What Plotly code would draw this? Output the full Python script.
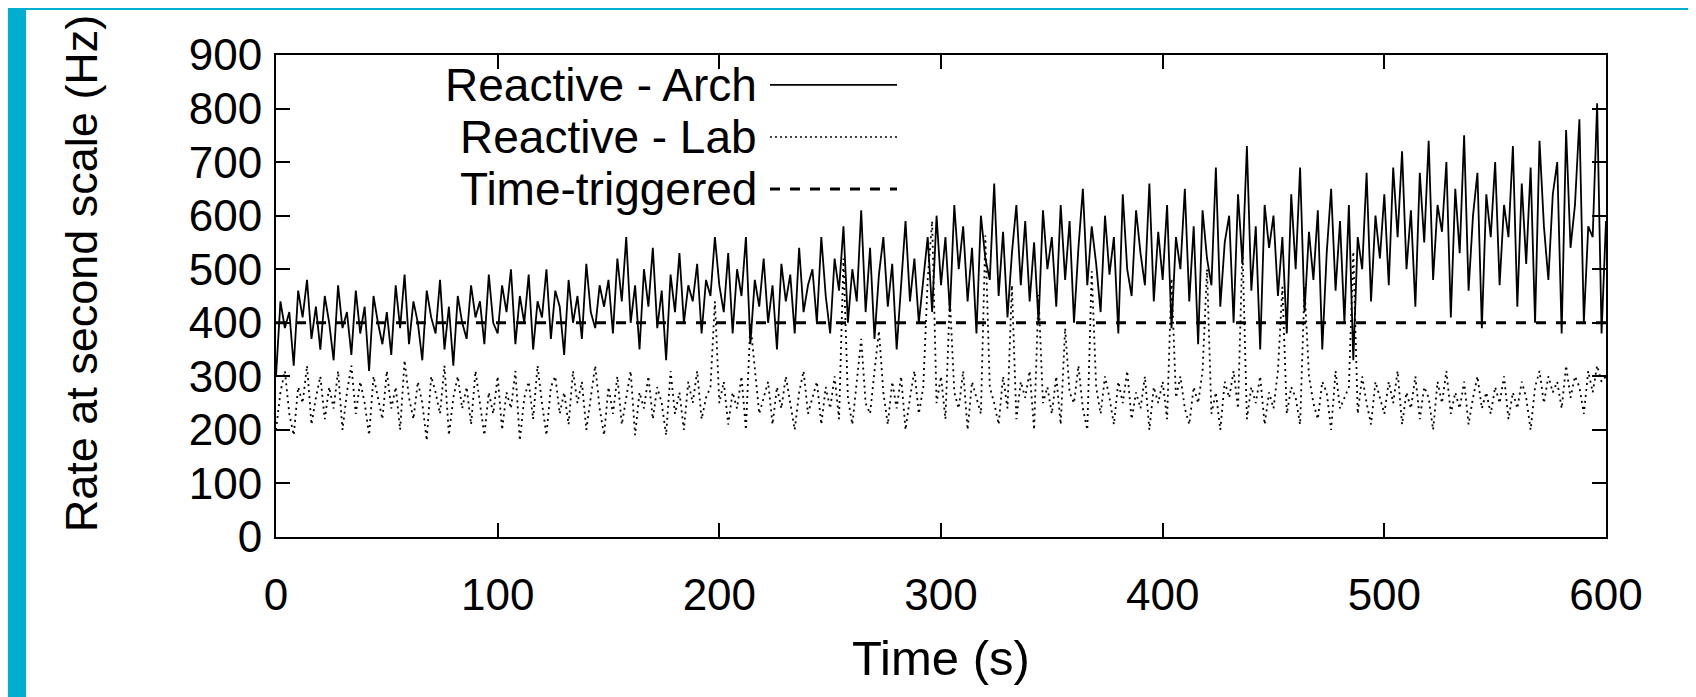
import plotly.graph_objects as go

# sampling grid, one value every 2 s
time_s = list(range(0, 601, 2))

arch_hz = [
    300, 440, 390, 420, 320, 460, 410, 480, 370, 430, 350, 450, 400, 330, 470, 390, 420, 340, 460, 380, 430, 310, 450, 400, 360,
    420, 340, 470, 390, 490, 360, 440, 400, 330, 460, 410, 380, 480, 350, 430, 320, 450, 400, 370, 470, 410, 440, 360, 490, 400,
    380, 470, 420, 500, 360, 450, 400, 490, 350, 440, 410, 500, 370, 460, 430, 340, 480, 400, 450, 370, 510, 420, 390, 470, 430,
    480, 380, 520, 440, 560, 400, 470, 350, 500, 430, 540, 390, 460, 330, 490, 420, 530, 400, 470, 440, 510, 380, 480, 450, 560,
    470, 420, 530, 380, 500, 450, 560, 360, 480, 430, 520, 400, 470, 350, 510, 440, 490, 380, 540, 420, 470, 500, 400, 560, 450,
    380, 520, 460, 580, 400, 500, 440, 610, 420, 540, 370, 490, 560, 430, 510, 350, 470, 590, 440, 520, 400, 480, 560, 420, 600,
    470, 560, 420, 620, 500, 580, 440, 540, 380, 600, 520, 480, 660, 450, 570, 410, 530, 620, 470, 590, 440, 550, 400, 610, 500,
    560, 430, 620, 480, 590, 400, 540, 650, 470, 580, 510, 420, 600, 490, 560, 380, 640, 500, 450, 610, 530, 470, 660, 440, 570,
    480, 620, 390, 560, 500, 650, 440, 580, 360, 610, 520, 470, 690, 430, 550, 600, 400, 640, 510, 730, 460, 580, 350, 620, 540,
    600, 450, 560, 380, 640, 500, 690, 420, 570, 480, 610, 350, 530, 650, 460, 590, 400, 620, 330, 560, 500, 680, 440, 600, 520,
    640, 470, 690, 560, 720, 500, 610, 430, 680, 550, 740, 480, 620, 570, 700, 410, 650, 530, 750, 460, 600, 680, 390, 640, 560,
    700, 470, 620, 560, 730, 430, 660, 510, 690, 400, 740, 580, 480, 640, 700, 380, 760, 540, 620, 780, 400, 580, 560, 810, 380,
    590,
]

lab_hz = [
    200, 270, 310, 230, 190, 280, 250, 320, 210, 260, 300, 220, 280, 240, 310, 200, 270, 320, 230, 290, 250, 190, 300, 260, 220,
    310, 240, 280, 200, 330, 260, 220, 290, 250, 180, 300, 270, 230, 320, 190, 260, 300, 240, 280, 210, 310, 250, 190, 270, 230,
    300, 200, 270, 240, 310, 180, 260, 290, 220, 320, 250, 190, 280, 300, 230, 270, 210, 310, 250, 290, 200, 260, 320, 240, 190,
    280, 230, 300, 210, 260, 310, 190, 270, 240, 300, 220, 280, 250, 190, 310, 230, 270, 200, 290, 250, 310, 220, 260, 280, 440,
    250, 290, 210, 270, 240, 300, 200, 400, 310, 230, 260, 290, 210, 280, 240, 300, 250, 200, 270, 310, 230, 260, 290, 210, 280,
    240, 300, 220, 520, 260, 210, 290, 370, 250, 230, 310, 385, 270, 210, 290, 240, 300, 200, 260, 310, 230, 280, 480, 590, 250,
    300, 220, 446, 270, 240, 310, 200, 290, 260, 230, 563, 280, 250, 210, 300, 240, 470, 220, 290, 260, 310, 200, 452, 250, 280,
    230, 300, 210, 390, 270, 250, 320, 240, 200, 496, 280, 230, 300, 260, 210, 290, 250, 310, 220, 270, 240, 300, 200, 280, 250,
    290, 220, 483, 260, 300, 240, 210, 280, 250, 310, 500, 230, 270, 200, 290, 260, 310, 240, 540, 220, 280, 250, 300, 210, 270,
    240, 310, 467, 230, 280, 260, 210, 467, 300, 250, 220, 290, 270, 200, 310, 240, 260, 280, 533, 230, 300, 250, 210, 290, 260,
    230, 290, 250, 310, 210, 270, 240, 300, 220, 280, 260, 200, 290, 250, 310, 230, 270, 240, 290, 210, 260, 300, 240, 270, 230,
    280, 250, 300, 220, 270, 240, 290, 260, 200, 280, 310, 250, 300, 270, 290, 240, 320, 260, 300, 280, 230, 310, 270, 320, 290,
    300,
]

tt_time = [0, 600]
tt_hz = [400, 400]

series_names = ["Reactive - Arch", "Reactive - Lab", "Time-triggered"]
x_ticks = [0, 100, 200, 300, 400, 500, 600]
y_ticks = [0, 100, 200, 300, 400, 500, 600, 700, 800, 900]

FONT = "Liberation Sans, Arial, Helvetica, sans-serif"
styles = [
    dict(color="black", width=1.8, dash="solid"),
    dict(color="black", width=1.8, dash="2px,4px"),
    dict(color="black", width=3, dash="10px,10px"),
]
key_styles = [
    styles[0],
    dict(color="black", width=1.5, dash="2px,3px"),
    styles[2],
]

fig = go.Figure()
fig.add_trace(go.Scatter(x=time_s, y=arch_hz, mode="lines", name=series_names[0], line=styles[0]))
fig.add_trace(go.Scatter(x=time_s, y=lab_hz, mode="lines", name=series_names[1], line=styles[1]))
fig.add_trace(go.Scatter(x=tt_time, y=tt_hz, mode="lines", name=series_names[2], line=styles[2]))

axis_common = dict(
    showline=True, linecolor="black", linewidth=2, mirror="allticks",
    ticks="inside", ticklen=14, tickwidth=1.5, tickcolor="black",
    showgrid=False, zeroline=False,
    tickfont=dict(family=FONT, size=44, color="black"),
)
fig.update_xaxes(range=[0, 600], tickvals=x_ticks, ticklabelstandoff=18, **axis_common)
fig.update_yaxes(range=[0, 900], tickvals=y_ticks, ticklabelstandoff=3, **axis_common)

# gnuplot style key: text right aligned, sample to the right
key_y = [0.938, 0.830, 0.722]
annotations = []
shapes = []
for name, st, yk in zip(series_names, key_styles, key_y):
    annotations.append(dict(
        xref="paper", yref="paper", x=0.3625, y=yk, text=name, showarrow=False,
        xanchor="right", yanchor="middle", borderpad=0,
        font=dict(family=FONT, size=46, color="black"),
    ))
    shapes.append(dict(type="line", xref="paper", yref="paper", x0=0.3714, x1=0.4669,
                       y0=yk, y1=yk, line=st))

annotations.append(dict(
    xref="paper", yref="paper", x=0.5, y=-0.251, text="Time (s)", showarrow=False,
    xanchor="center", yanchor="middle", font=dict(family=FONT, size=49, color="black"),
))
annotations.append(dict(
    xref="paper", yref="paper", x=-0.1466, y=0.547, text="Rate at second scale (Hz)",
    showarrow=False, textangle=-90, xanchor="center", yanchor="middle",
    font=dict(family=FONT, size=45, color="black"),
))

# cyan frame strips at the left and top of the picture
shapes.append(dict(type="rect", xref="paper", yref="paper", x0=-268 / 1330, x1=-250 / 1330,
                   y0=-168 / 482, y1=(482 + 47) / 482, fillcolor="#00AFCF", line=dict(width=0)))
shapes.append(dict(type="rect", xref="paper", yref="paper", x0=-268 / 1330, x1=(1330 + 98) / 1330,
                   y0=(482 + 45) / 482, y1=(482 + 47) / 482, fillcolor="#00AFCF", line=dict(width=0)))

fig.update_layout(
    width=1696, height=697,
    margin=dict(l=268, r=98, t=47, b=168, autoexpand=False),
    paper_bgcolor="white", plot_bgcolor="white",
    showlegend=False,
    annotations=annotations,
    shapes=shapes,
)

fig.write_html("out.html")
